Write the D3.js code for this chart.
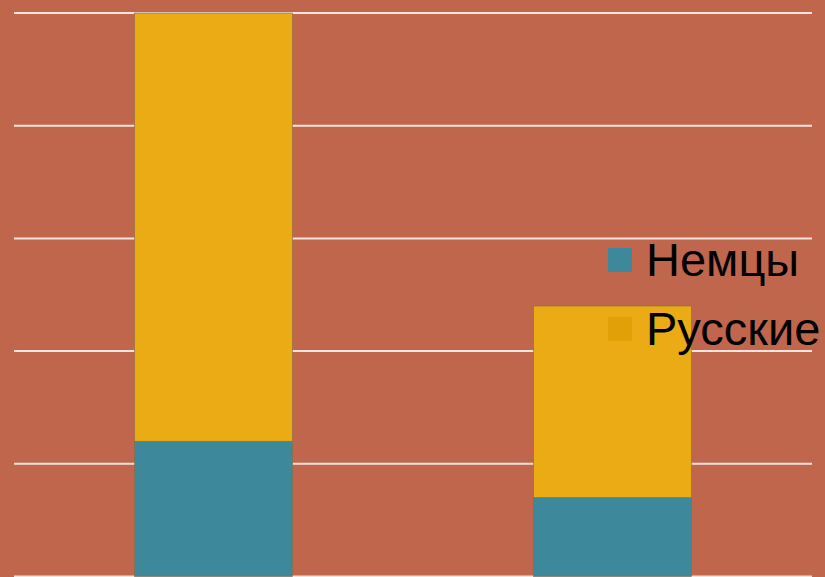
<!DOCTYPE html>
<html>
<head>
<meta charset="utf-8">
<script src="https://cdn.jsdelivr.net/npm/d3@7"></script>
<style>
  body { margin: 0; background: #c0664c; }
  svg { display: block; }
</style>
</head>
<body>
<svg id="chart" width="825" height="577"></svg>
<script>
// Data
const categories = ["1", "2"]
const seriesNames = ["Немцы", "Русские"]
const nemtsy = [1.2, 0.7]
const russkie = [3.8, 1.7]
const yTicks = [0, 1, 2, 3, 4, 5]

const colors = { "Немцы": "#3d889b", "Русские": "#eaab14" }
const legendColors = { "Немцы": "#3d889b", "Русские": "#e0a006" }

let svg = d3.select("#chart")

const plotLeft = 14, plotRight = 812, plotTop = 13, plotBottom = 576.5

let x = d3.scaleBand()
    .domain(categories)
    .range([plotLeft, plotRight])
    .paddingInner(0.604)
    .paddingOuter(0.302)

let y = d3.scaleLinear()
    .domain([0, 5])
    .range([plotBottom, plotTop])

svg.append("rect")
    .attr("width", 825).attr("height", 577)
    .attr("fill", "#c0664c")

// gridlines
svg.append("g")
    .attr("class", "grid")
  .selectAll("line")
  .data(yTicks)
  .enter().append("line")
    .attr("x1", plotLeft).attr("x2", plotRight)
    .attr("y1", d => y(d)).attr("y2", d => y(d))
    .attr("stroke", "#f3e4df")
    .attr("stroke-width", 2)

// stacked data
let rows = categories.map((c, i) => ({ cat: c, "Немцы": nemtsy[i], "Русские": russkie[i] }))
let stacked = d3.stack().keys(seriesNames)(rows)

svg.append("g")
    .attr("class", "bars")
  .selectAll("g")
  .data(stacked)
  .enter().append("g")
    .attr("fill", d => colors[d.key])
  .selectAll("rect")
  .data(d => d)
  .enter().append("rect")
    .attr("x", d => x(d.data.cat))
    .attr("width", x.bandwidth())
    .attr("y", d => y(d[1]))
    .attr("height", d => y(d[0]) - y(d[1]))
    .attr("stroke", "#8a6a4a")
    .attr("stroke-width", 0.6)

// legend
let legend = svg.append("g")
    .attr("class", "legend")
  .selectAll("g")
  .data(seriesNames)
  .enter().append("g")
    .attr("transform", (d, i) => "translate(608," + (248 + i * 69) + ")")

legend.append("rect")
    .attr("width", 24).attr("height", 24)
    .attr("fill", d => legendColors[d])

legend.append("text")
    .attr("x", 38)
    .attr("y", 28)
    .attr("font-family", "Liberation Sans, Arial, sans-serif")
    .attr("font-size", 47)
    .attr("fill", "#000")
    .text(d => d)
</script>
</body>
</html>
